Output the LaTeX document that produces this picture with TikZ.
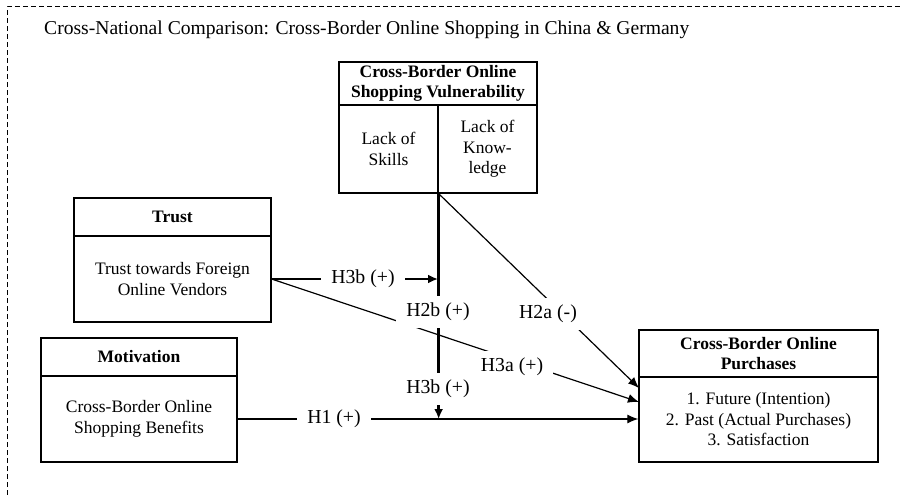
\documentclass[tikz,border=0pt]{standalone}
\usepackage{fontspec}
\setmainfont{Liberation Serif}
\usetikzlibrary{arrows.meta}
\begin{document}
\begin{tikzpicture}[x=1pt,y=-1pt,
  every node/.style={font=\fontsize{17.5}{20.5}\selectfont},
  boxpart/.style={draw=black, line width=1.3pt, inner sep=0pt, align=center},
  hdr/.style={boxpart, font=\fontsize{17.5}{20.5}\selectfont\bfseries},
  conn/.style={line width=1.2pt, -{Latex[length=11pt,width=9pt]}},
  thickconn/.style={line width=2.6pt, -{Latex[length=10pt,width=9pt]}},
  lbl/.style={fill=white, inner xsep=10pt, inner ysep=7pt, font=\fontsize{19.8}{23}\selectfont},
  frame/.style={line width=1pt, dash pattern=on 5pt off 3pt}]
\useasboundingbox (0,0) rectangle (903,495);
\fill[white] (0,0) rectangle (903,495);
\draw[frame] (7,495) -- (7,7) -- (903,7);

\node[anchor=base west, inner sep=0pt, font=\fontsize{19.6}{23}\selectfont] (title) at (44,34.5) {Cross-National Comparison: Cross-Border Online Shopping in China \& Germany};

% Vulnerability
\node[hdr, minimum width=198pt, minimum height=43pt] (vulH) at (438,83.5) {Cross-Border Online\\Shopping Vulnerability};
\node[boxpart, minimum width=99pt, minimum height=88pt] (vulL) at (388.5,149) {Lack of\\Skills};
\node[boxpart, minimum width=99pt, minimum height=88pt] (vulR) at (487.5,149) {Lack of\\Know-\\ledge};
\coordinate (vulS) at (vulL.south east);

% Trust
\node[hdr, minimum width=197pt, minimum height=38pt] (trH) at (172.5,217) {Trust};
\node[boxpart, minimum width=197pt, minimum height=86pt] (trB) at (172.5,279) {Trust towards Foreign\\Online Vendors};

% Motivation
\node[hdr, minimum width=196pt, minimum height=38pt] (moH) at (139,357) {Motivation};
\node[boxpart, minimum width=196pt, minimum height=86pt] (moB) at (139,419) {Cross-Border Online\\Shopping Benefits};

% Purchases
\node[hdr, minimum width=239pt, minimum height=47pt] (puH) at (758.5,353.5) {Cross-Border Online\\Purchases};
\node[boxpart, minimum width=239pt, minimum height=85pt] (puB) at (758.5,419.5) {1. Future (Intention)\\2. Past (Actual Purchases)\\3. Satisfaction};

\coordinate (pA) at (639,388);
\coordinate (pB) at (639,402);
\coordinate (mod) at (438,279);
\coordinate (h1end) at (moB.east -| puB.west);
\coordinate (modB) at (moB.east -| vulS);

% connectors
\draw[conn] (trB.east) -- (pB);
\draw[conn] (vulS) -- (pA);
\draw[conn] (moB.east) -- (h1end);
\draw[thickconn] (trB.east) -- (mod);
\draw[thickconn] (vulS) -- (modB);

% labels
\node[lbl] (l1) at (363,279) {H3b (+)};
\node[lbl] (l2) at (438,312) {H2b (+)};
\node[lbl] (l3) at (438,389) {H3b (+)};
\node[lbl] (l4) at (548,314) {H2a (-)};
\node[lbl] (l5) at (512,367) {H3a (+)};
\node[lbl] (l6) at (334,419) {H1 (+)};
\end{tikzpicture}
\end{document}
